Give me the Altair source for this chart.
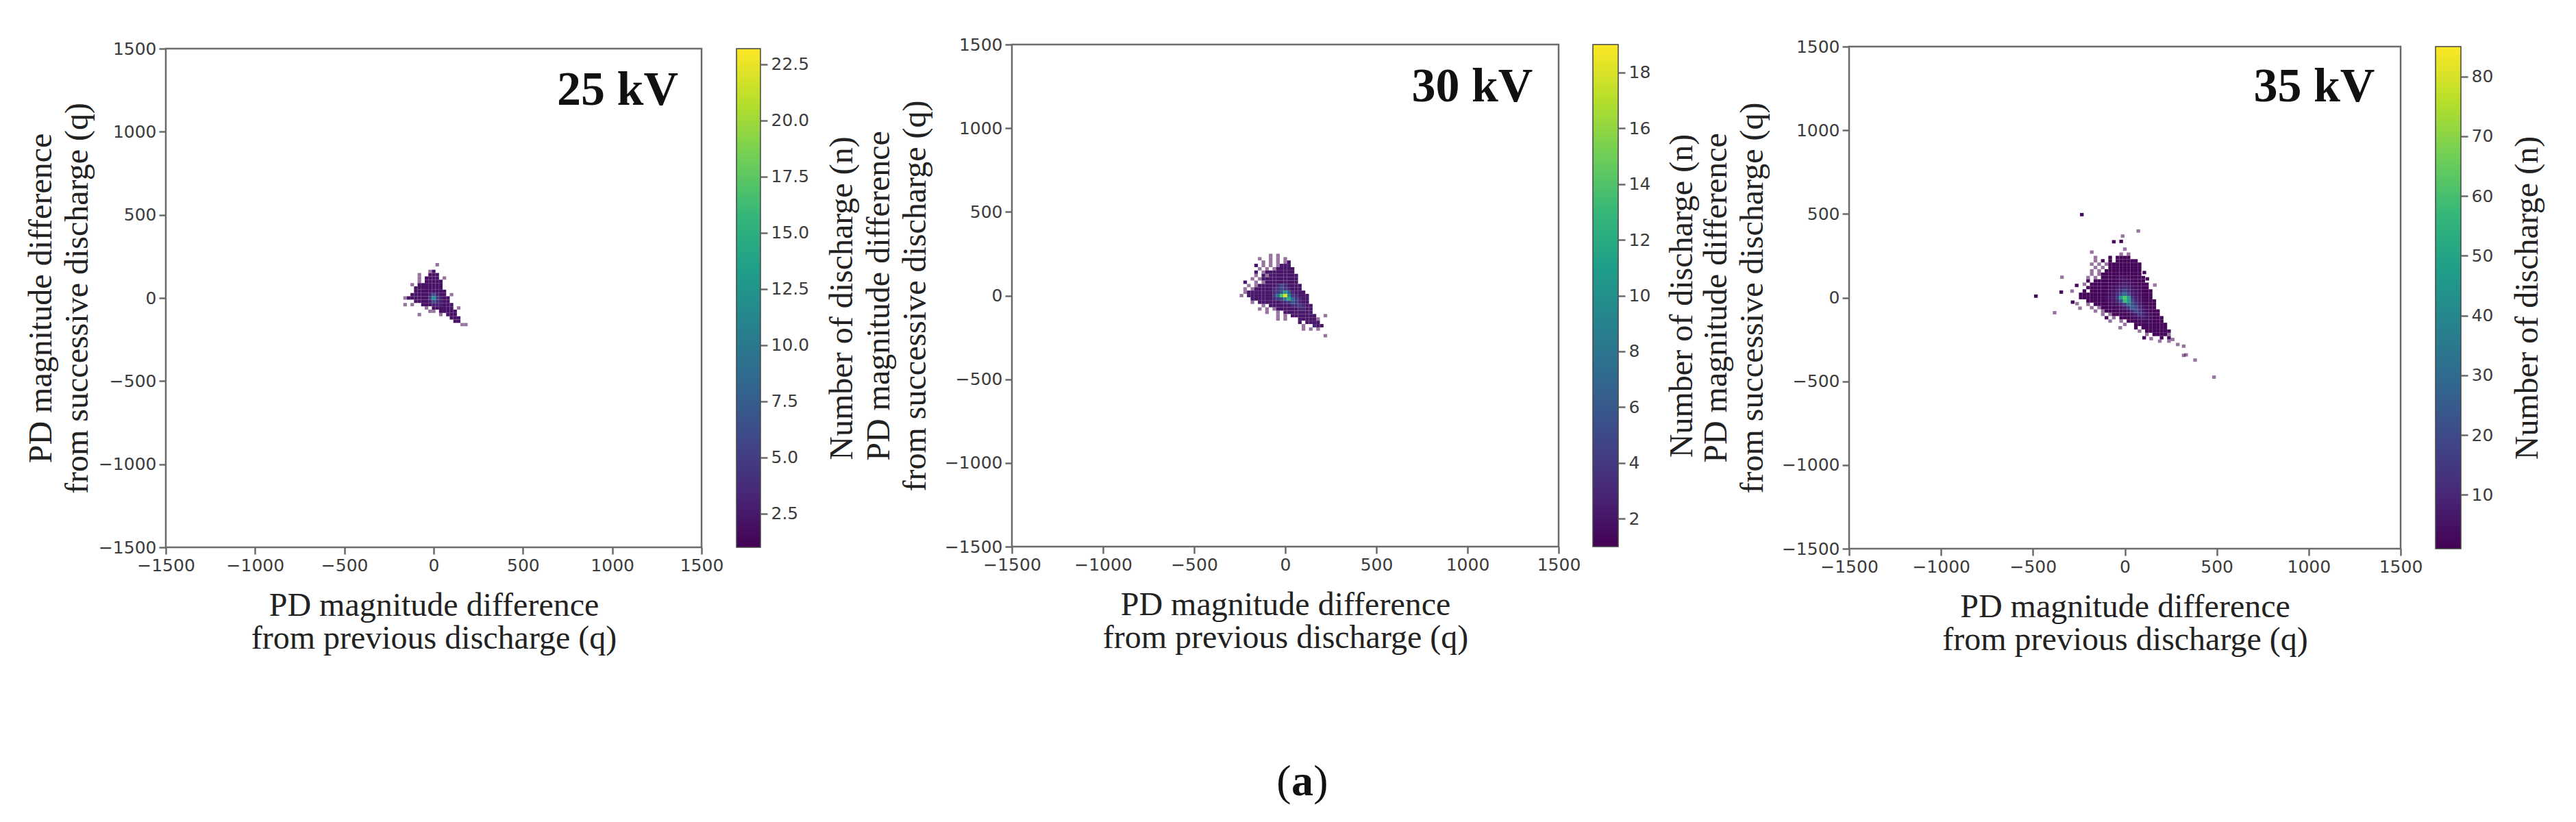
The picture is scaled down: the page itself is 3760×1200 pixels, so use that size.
import altair as alt
import pandas as pd

TICKS = [-1500, -1000, -500, 0, 500, 1000, 1500]
VIRIDIS = ["#440154", "#482878", "#3e4989", "#31688e", "#26828e",
           "#1f9e89", "#35b779", "#6ece58", "#b5de2b", "#fde725"]
SERIF = "Liberation Serif"
SANS = "DejaVu Sans"
GRAY = "#6a6a6a"
TXT = "#3c3c3c"

# Grid rows: top row first, first character is the left column; base-36 count per 20 q cell
P1_X0, P1_Y0 = -180, 200
P1_GRID = [
    "..........1",
    "",
    "........12",
    ".....1..222",
    ".....1.2222.1",
    ".....1.22222",
    "...1.2222222",
    "....22222222",
    "....222222222",
    "...2222236322.1",
    ".12222225c5322",
    "....2222364322",
    ".1.1..222333222",
    ".......1.222222.1",
    "........11.22222",
    ".....1.....1.222",
    "..............222",
    "...............22",
    ".................11",
]
P2_X0, P2_Y0 = -240, 240
P2_GRID = [
    "........1.1",
    ".....1..1.1.1",
    "......1.1.1.12",
    "....2.1.1.1222",
    ".....1.1.122222",
    "....2.122222222",
    "....1.2122222222",
    "...1.12222222222",
    ".2..1.1222222222",
    "..1.1222223532222",
    ".1.12222234543222",
    ".12222222346a63222",
    "1.222222248ei943222",
    "...2222223458c74322",
    "...1.22222233464322",
    "......1.222222334322",
    ".....1.1.12222223322",
    ".......1..1.22222222",
    "..........1.1.2222222..1",
    "..........1.1...222221",
    "................2.2222",
    ".................1..322",
    ".................1.1.1",
    "",
    ".......................1",
]
P3_X0, P3_Y0 = -260, 260
P3_GRID = [
    "............1.1",
    ".....1...2.2222",
    ".....1.2.2.222222",
    "....1.1.1222222222",
    ".....1.1.222222222",
    "....1.1.2222222222",
    "....1.122222222222",
    "...1.1.222234432222",
    "...2.22222234543222",
    "..1.2222223457543222",
    "...2222223468b854322",
    "..2.22223458cic753222",
    ".2222222346bkwj964322",
    ".2222223458gzzze85322",
    "...22222346bmzzkb63222",
    "...1.2222346aiune74322",
    "....1.12222358eqkb6322",
    ".....1.12222346bje84222",
    ".......1.12222358da5322",
    "........2.1.222346853222",
    ".........1..1.2223433222",
    ".............1..222332222",
    "................2.2222222",
    ".................1.2222222",
    "...................1.22221",
    ".......................2.2",
    ".........................1",
]
# Cells hotter than one base-36 character can hold
P3_HOT_X = [-20, 0, 20, 0, 20]
P3_HOT_Y = [0, 0, 0, -20, -20]
P3_HOT_N = [48, 62, 45, 58, 45]
# Scattered cells outside the main body of the 35 kV cloud
P3_OUT_X = [-234, 73, -60, -20, -12, -180, 0, -342, -346, -484, -382, -284, -25, 320, 333,
            320, 382, 485, 288, 260, 105, 143, 190, 106, 122, 163, -262, -287, -260, -244]
P3_OUT_Y = [496, 398, 334, 336, 368, 272, 290, 122, 33, 9, -90, -27, -180, -290, -342,
            -345, -373, -475, -280, -250, -240, -245, -260, 150, 112, 75, 73, 39, -36, -63]
P3_OUT_N = [3, 1, 3, 2, 1, 1, 1, 1, 3, 3, 1, 2, 1, 1, 1,
            1, 1, 1, 1, 1, 2, 1, 1, 2, 2, 1, 3, 1, 1, 1]

LABELS = ["25 kV", "30 kV", "35 kV"]
LABEL_X = [1030, 1026, 1030]
LABEL_Y = [1247, 1246, 1258]
CB_MAX = [23.2, 19, 85]
CB_TICKS = [[2.5, 5, 7.5, 10, 12.5, 15, 17.5, 20, 22.5],
            [2, 4, 6, 8, 10, 12, 14, 16, 18],
            [10, 20, 30, 40, 50, 60, 70, 80]]
CB_FORMAT = [".1f", "d", "d"]
X_TITLE = ["PD magnitude difference", "from previous discharge (q)"]
Y_TITLE = ["PD magnitude difference", "from successive discharge (q)"]
CB_TITLE = "Number of discharge (n)"

VIEW_H = 736
# plot width, top and bottom of each plot inside the common cell
PW = [782, 798, 805]
TOP = [6, 0, 3]
BOT = [734, 733, 736]
CB_W = [35, 37, 37]
GAPS = [51, 367, 50, 337, 51]
Y_PAD = [6, 18, 18]
CB_TITLE_X = [119, 93, 97]
FS_TITLE = 48
FS_TICK = 25


def parse(grid, x0, y0):
    rows = []
    for r, line in enumerate(grid):
        for c, ch in enumerate(line):
            if ch != ".":
                rows.append({"x": x0 + 20 * c, "y": y0 - 20 * r, "n": int(ch, 36)})
    return rows


def cells(rows):
    df = pd.DataFrame(rows)
    df = df.drop_duplicates(["x", "y"], keep="last")
    df["x1"], df["x2"] = df.x - 10, df.x + 10
    df["y1"], df["y2"] = df.y - 10, df.y + 10
    return df.sort_values("n")


def panel(i, df):
    xs = alt.Scale(domain=[-1500, 1500], range=[0, PW[i]], nice=False, zero=False)
    ys = alt.Scale(domain=[-1500, 1500], range=[BOT[i], TOP[i]], nice=False, zero=False)
    frame_df = pd.DataFrame({"a": [-1500], "b": [1500]})
    ax_common = dict(
        values=TICKS, grid=False, domain=False, tickColor=GRAY, tickWidth=2.5, tickSize=10,
        labelFont=SANS, labelFontSize=FS_TICK, labelColor=TXT, labelPadding=4, format="d",
        titleFont=SERIF, titleFontSize=FS_TITLE, titleFontWeight="normal", titleColor="#222222",
        labelOverlap=False, labelFlush=False,
    )
    x_ax = alt.Axis(title=X_TITLE, offset=BOT[i] - VIEW_H, titlePadding=22, titleLineHeight=48, **ax_common)
    y_ax = alt.Axis(title=Y_TITLE, titlePadding=Y_PAD[i], titleLineHeight=53, **ax_common)
    frame = alt.Chart(frame_df).mark_rect(
        fill="white", fillOpacity=0, stroke=GRAY, strokeWidth=2.5
    ).encode(
        x=alt.X("a:Q", scale=xs, axis=x_ax),
        x2="b:Q",
        y=alt.Y("a:Q", scale=ys, axis=y_ax),
        y2="b:Q",
    )
    heat = alt.Chart(df).mark_rect(strokeWidth=0).encode(
        x=alt.X("x1:Q", scale=xs, axis=x_ax),
        x2="x2:Q",
        y=alt.Y("y1:Q", scale=ys, axis=y_ax),
        y2="y2:Q",
        color=alt.Color("n:Q", scale=alt.Scale(scheme="viridis", domain=[1, CB_MAX[i]]), legend=None),
        opacity=alt.condition("datum.n <= 1", alt.value(0.55), alt.value(1)),
    )
    lab = alt.Chart(pd.DataFrame({"x": [LABEL_X[i]], "y": [LABEL_Y[i]], "t": [LABELS[i]]})).mark_text(
        font=SERIF, fontSize=70, fontWeight="bold", color="#111111", align="center", baseline="middle"
    ).encode(
        x=alt.X("x:Q", scale=xs, axis=x_ax),
        y=alt.Y("y:Q", scale=ys, axis=y_ax),
        text="t:N",
    )
    return alt.layer(frame, heat, lab).properties(width=PW[i], height=VIEW_H)


def colorbar(i):
    df = pd.DataFrame({"a": [1], "b": [CB_MAX[i]]})
    return alt.Chart(df).mark_rect(
        color=alt.Gradient(gradient="linear", x1=0, x2=0, y1=1, y2=0,
                           stops=[alt.GradientStop(offset=k / 9, color=c) for k, c in enumerate(VIRIDIS)]),
        stroke="#444444", strokeWidth=1.5,
    ).encode(
        x=alt.value(0),
        x2=alt.value(CB_W[i]),
        y=alt.Y("a:Q", scale=alt.Scale(domain=[1, CB_MAX[i]], range=[BOT[i], TOP[i]], nice=False, zero=False),
                axis=alt.Axis(orient="right", values=CB_TICKS[i], format=CB_FORMAT[i], grid=False, domain=False,
                              tickColor=GRAY, tickWidth=2.5, tickSize=10, labelFont=SANS, labelFontSize=FS_TICK,
                              labelColor=TXT, labelPadding=5, title=CB_TITLE, titleFont=SERIF, titleFontSize=FS_TITLE,
                              titleFontWeight="normal", titleColor="#222222", titleAngle=270,
                              titleX=CB_TITLE_X[i], titleY=(TOP[i] + BOT[i]) / 2, titleAlign="center",
                              titleBaseline="middle", labelOverlap=False)),
        y2="b:Q",
    ).properties(width=CB_W[i], height=VIEW_H)


def spacer(w):
    return alt.Chart(pd.DataFrame({"a": [0]})).mark_point(opacity=0).encode(
        x=alt.value(0), y=alt.value(0)
    ).properties(width=w, height=VIEW_H)


def with_caption(chart):
    cap = pd.DataFrame({"t": ["(", "a", ")"], "dx": [-27, 0, 27], "w": ["normal", "bold", "normal"]})
    marks = []
    for _, row in cap.iterrows():
        marks.append(alt.Chart(pd.DataFrame({"t": [row.t]})).mark_text(
            font=SERIF, fontSize=64, fontWeight=row.w, color="#111111", align="center", baseline="middle"
        ).encode(x=alt.value(424 + row.dx), y=alt.value(1077), text="t:N"))
    return alt.layer(chart, *marks).properties(width=PW[1], height=VIEW_H)


df1 = cells(parse(P1_GRID, P1_X0, P1_Y0))
df2 = cells(parse(P2_GRID, P2_X0, P2_Y0))
rows3 = parse(P3_GRID, P3_X0, P3_Y0)
rows3 += [{"x": a, "y": b, "n": c} for a, b, c in zip(P3_OUT_X, P3_OUT_Y, P3_OUT_N)]
rows3 += [{"x": a, "y": b, "n": c} for a, b, c in zip(P3_HOT_X, P3_HOT_Y, P3_HOT_N)]
df3 = cells(rows3)

chart = alt.hconcat(
    panel(0, df1), spacer(GAPS[0]), colorbar(0), spacer(GAPS[1]),
    with_caption(panel(1, df2)), spacer(GAPS[2]), colorbar(1), spacer(GAPS[3]),
    panel(2, df3), spacer(GAPS[4]), colorbar(2),
    spacing=0, bounds="flush",
).resolve_scale(x="independent", y="independent", color="independent").configure_view(
    stroke=None
).properties(padding={"left": 28, "top": 45, "right": 5, "bottom": 5}, background="white")

chart.save("out.html", embed_options={"renderer": "svg", "actions": False})
